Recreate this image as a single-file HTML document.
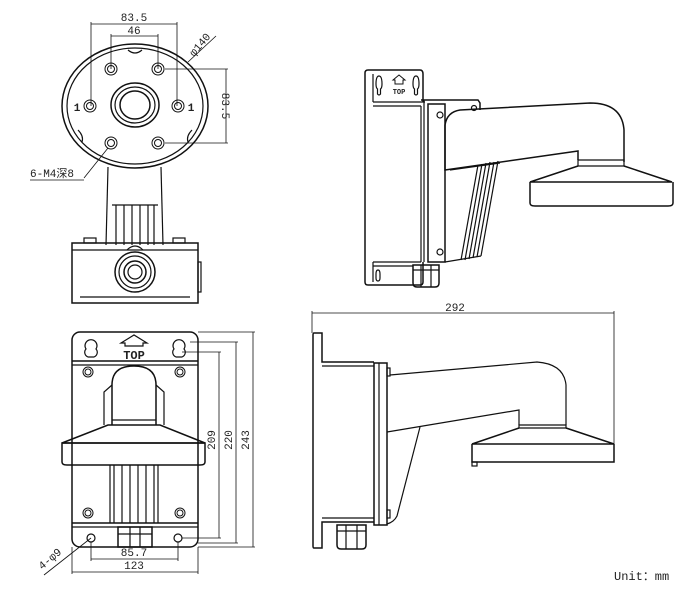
<!DOCTYPE html>
<html><head><meta charset="utf-8"><style>
html,body{margin:0;padding:0;background:#fff;}
svg{display:block}
text{font-family:"Liberation Mono","Noto Sans CJK SC",monospace;fill:#222}
</style></head><body>
<svg width="692" height="593" viewBox="0 0 692 593" xmlns="http://www.w3.org/2000/svg" fill="none" stroke="#111" stroke-width="1.2">
<!-- ===== Top-left view ===== -->
<g stroke-width="0.8">
<line x1="91" y1="24" x2="177" y2="24"/><line x1="91" y1="22" x2="91" y2="106"/><line x1="177" y1="22" x2="177" y2="106"/>
<line x1="111" y1="36" x2="158" y2="36"/><line x1="111" y1="34" x2="111" y2="69"/><line x1="158" y1="34" x2="158" y2="69"/>
<line x1="165" y1="69" x2="228" y2="69"/><line x1="165" y1="143" x2="228" y2="143"/><line x1="226" y1="69" x2="226" y2="143"/>
<line x1="188" y1="62" x2="216" y2="36"/>
<line x1="108" y1="148" x2="84" y2="178"/><line x1="30" y1="180" x2="84" y2="180"/>
</g>
<text x="134" y="21" font-size="11" text-anchor="middle" stroke="none">83.5</text>
<text x="134" y="34" font-size="11" text-anchor="middle" stroke="none">46</text>
<text transform="translate(222,106) rotate(90)" font-size="11" text-anchor="middle" stroke="none">83.5</text>
<text transform="translate(194,57) rotate(-50)" font-size="11" stroke="none">φ140</text>
<text x="30" y="177" font-size="11" stroke="none">6-M4深8</text>
<ellipse cx="135" cy="106" rx="73" ry="62" stroke-width="1.5"/>
<ellipse cx="135" cy="106" rx="68" ry="58"/>
<path d="M128 50 q7 6 14 0" /><path d="M78 130 q6 6 4 12"/><path d="M192 130 q-6 6 -4 12"/>
<g stroke-width="1">
<circle cx="111" cy="69" r="6"/><circle cx="111" cy="69" r="3.5"/><circle cx="158" cy="69" r="6"/><circle cx="158" cy="69" r="3.5"/>
<circle cx="90" cy="106" r="6"/><circle cx="90" cy="106" r="3.5"/><circle cx="178" cy="106" r="6"/><circle cx="178" cy="106" r="3.5"/>
<circle cx="111" cy="143" r="6"/><circle cx="111" cy="143" r="3.5"/><circle cx="158" cy="143" r="6"/><circle cx="158" cy="143" r="3.5"/>
</g>
<ellipse cx="135" cy="105" rx="24" ry="22" stroke-width="1.5"/><ellipse cx="135" cy="105" rx="20" ry="18"/><ellipse cx="135" cy="105" rx="15" ry="14" stroke-width="1.5"/>
<text x="77" y="111" font-size="11" text-anchor="middle" stroke="none" font-weight="bold">1</text>
<text x="191" y="111" font-size="11" text-anchor="middle" stroke="none" font-weight="bold">1</text>
<line x1="108" y1="167" x2="106" y2="245"/><line x1="161" y1="167" x2="163" y2="245"/>
<path d="M112 205 h46 M116 205 v40 M124 205 v40 M132 205 v40 M140 205 v40 M148 205 v40 M154 205 v40"/>
<rect x="72" y="243" width="126" height="60" stroke-width="1.5"/>
<line x1="72" y1="250" x2="198" y2="250"/><line x1="80" y1="297" x2="190" y2="297"/>
<rect x="84" y="238" width="12" height="5"/><rect x="173" y="238" width="12" height="5"/>
<path d="M127 250 q8 -8 16 0"/>
<circle cx="135" cy="272" r="20" stroke-width="1.5"/><circle cx="135" cy="272" r="16"/><circle cx="135" cy="272" r="11" stroke-width="1.5"/><circle cx="135" cy="272" r="7"/>
<rect x="198" y="262" width="3" height="30"/>
<!-- ===== Bottom-left view ===== -->
<rect x="72" y="332" width="126" height="215" rx="8" stroke-width="1.5"/>
<line x1="72" y1="361" x2="198" y2="361" stroke-width="1.5"/><line x1="72" y1="365" x2="198" y2="365"/>
<line x1="72" y1="523" x2="198" y2="523" stroke-width="1.5"/><line x1="72" y1="527" x2="198" y2="527"/>
<path d="M88 357 a5 5 0 0 1 -2 -8 a6 6 0 1 1 10 0 a5 5 0 0 1 -2 8 z"/>
<path d="M176 357 a5 5 0 0 1 -2 -8 a6 6 0 1 1 10 0 a5 5 0 0 1 -2 8 z"/>
<path d="M121 343 l13 -8 l13 8 h-4 v3 h-18 v-3 z"/>
<text x="134" y="359" font-size="12" font-weight="bold" text-anchor="middle" stroke="none" font-family="Liberation Sans">TOP</text>
<g stroke-width="1"><circle cx="88" cy="372" r="5"/><circle cx="88" cy="372" r="3"/><circle cx="180" cy="372" r="5"/><circle cx="180" cy="372" r="3"/>
<circle cx="88" cy="513" r="5"/><circle cx="88" cy="513" r="3"/><circle cx="180" cy="513" r="5"/><circle cx="180" cy="513" r="3"/></g>
<path d="M112 425 V385 Q112 366 134 366 Q156 366 156 385 V425" stroke-width="1.5"/>
<path d="M112 385 L104 392 V425 M156 385 L164 392 V425"/>
<line x1="112" y1="420" x2="156" y2="420"/>
<path d="M108 425 H160 L205 443 H62 Z" stroke-width="1.5"/>
<path d="M62 443 H205 V462 Q205 465 200 465 H67 Q62 465 62 462 Z" stroke-width="1.5"/>
<path d="M110 465 V523 M114 465 V523 M122 465 V523 M130 465 V523 M138 465 V523 M146 465 V523 M154 465 V523 M158 465 V523"/>
<rect x="118" y="527" width="34" height="20" stroke-width="1.5"/><line x1="118" y1="534" x2="152" y2="534"/><line x1="130" y1="527" x2="130" y2="547"/><line x1="140" y1="527" x2="140" y2="547"/>
<circle cx="91" cy="538" r="4"/><circle cx="178" cy="538" r="4"/>
<g stroke-width="0.8">
<line x1="91" y1="542" x2="91" y2="561"/><line x1="178" y1="542" x2="178" y2="561"/><line x1="91" y1="559" x2="178" y2="559"/>
<line x1="72" y1="547" x2="72" y2="574"/><line x1="198" y1="547" x2="198" y2="574"/><line x1="72" y1="572" x2="198" y2="572"/>
<line x1="182" y1="352" x2="221" y2="352"/><line x1="182" y1="538" x2="221" y2="538"/><line x1="219" y1="352" x2="219" y2="538"/>
<line x1="190" y1="342" x2="238" y2="342"/><line x1="198" y1="543" x2="238" y2="543"/><line x1="236" y1="342" x2="236" y2="543"/>
<line x1="198" y1="332" x2="255" y2="332"/><line x1="198" y1="547" x2="255" y2="547"/><line x1="253" y1="332" x2="253" y2="547"/>
<line x1="91" y1="538" x2="44" y2="575"/>
</g>
<text x="134" y="556" font-size="11" text-anchor="middle" stroke="none">85.7</text>
<text x="134" y="569" font-size="11" text-anchor="middle" stroke="none">123</text>
<text transform="translate(215,440) rotate(-90)" font-size="11" text-anchor="middle" stroke="none">209</text>
<text transform="translate(232,440) rotate(-90)" font-size="11" text-anchor="middle" stroke="none">220</text>
<text transform="translate(249,440) rotate(-90)" font-size="11" text-anchor="middle" stroke="none">243</text>
<text transform="translate(42,570) rotate(-40)" font-size="11" stroke="none">4-φ9</text>
<!-- ===== Top-right view ===== -->
<path d="M368 70 H420 Q423 70 423 74 V102 M423 262 V282 Q423 285 420 285 H368 Q365 285 365 282 V73 Q365 70 368 70" stroke-width="1.5"/>
<path d="M373 74 V102 M373 262 V282"/>
<path d="M376 84 q0 -8 3 -8 q3 0 3 8 q0 4 -1.5 5 v5 q-1.5 2 -3 0 v-5 q-1.5 -1 -1.5 -5 z"/>
<path d="M413 84 q0 -8 3 -8 q3 0 3 8 q0 4 -1.5 5 v5 q-1.5 2 -3 0 v-5 q-1.5 -1 -1.5 -5 z"/>
<path d="M393 80 l6 -5 l6 5 h-2 v4 h-8 v-4z" stroke-width="1"/>
<text x="399" y="94" font-size="7" font-weight="bold" text-anchor="middle" stroke="none" font-family="Liberation Sans">TOP</text>
<path d="M373 102 H425 M373 106 H421" />
<path d="M421 106 V262 M421 262 H373 M373 266 H413"/>
<path d="M421 100 L432 100 H478 L480 103 V110" stroke-width="1.5"/>
<rect x="428" y="104" width="17" height="158" stroke-width="1.5"/>
<line x1="424" y1="100" x2="424" y2="262"/>
<circle cx="440" cy="115" r="3"/><circle cx="440" cy="252" r="3"/><circle cx="474" cy="108" r="2.5"/>
<path d="M445 125 Q447 112 460 110 L590 103 Q622 103 624 130 V162" stroke-width="1.5"/>
<path d="M445 125 V170 L578 151 V160" stroke-width="1.5"/>
<path d="M450 170 L500 163 M478 165 L461 260 M482 164 L465 260 M486 163 L469 259 M490 162 L473 258 M494 162 L477 257 M498 161 L481 256"/>
<line x1="445" y1="262" x2="481" y2="256"/>
<path d="M578 160 H624 V166 H578 Z"/>
<path d="M578 166 L530 182 H672 L624 166" stroke-width="1.5"/>
<path d="M530 182 V203 Q530 206 535 206 H668 Q673 206 673 203 V182" stroke-width="1.5"/>
<path d="M413 265 H439 V283 Q439 287 435 287 H417 Q413 287 413 283 Z" stroke-width="1.5"/>
<path d="M413 270 H439 M421 265 V287 M431 265 V287"/>
<path d="M376 274 q0 -4 2 -4 q2 0 2 4 v4 q0 3 -2 3 q-2 0 -2 -3z"/>
<!-- ===== Bottom-right view ===== -->
<g stroke-width="0.8"><line x1="312" y1="313" x2="614" y2="313"/><line x1="312" y1="311" x2="312" y2="333"/><line x1="614" y1="311" x2="614" y2="462"/></g>
<text x="455" y="311" font-size="11" text-anchor="middle" stroke="none" font-family="Liberation Sans">292</text>
<path d="M314 333 H322 V362 H374 M374 522 H322 V548 H314 Q313 548 313 546 V335 Q313 333 314 333" stroke-width="1.5"/>
<line x1="322" y1="366" x2="374" y2="366"/><line x1="322" y1="518" x2="374" y2="518"/>
<rect x="374" y="363" width="13" height="162" stroke-width="1.5"/><line x1="379" y1="363" x2="379" y2="525"/>
<rect x="387" y="368" width="3" height="8"/><rect x="387" y="510" width="3" height="8"/>
<path d="M390 375 L537 362 Q564 364 566 385 V425" stroke-width="1.2"/>
<path d="M387 432 L519 410 V425"/>
<path d="M420 427 L397 516 Q394 522 387 524"/>
<path d="M519 425 H566 V428 H519 Z"/>
<path d="M519 428 L472 444 H614 L566 428" stroke-width="1.5"/>
<path d="M472 444 V462 H614 V444" stroke-width="1.5"/>
<rect x="472" y="462" width="5" height="4"/>
<path d="M337 525 H366 V545 Q366 549 362 549 H341 Q337 549 337 545 Z" stroke-width="1.5"/>
<path d="M337 531 H366 M346 525 V549 M357 525 V549"/>
<text x="614" y="580" font-size="12" stroke="none" font-family="Liberation Sans">Unit：mm</text>
</svg>
</body></html>
